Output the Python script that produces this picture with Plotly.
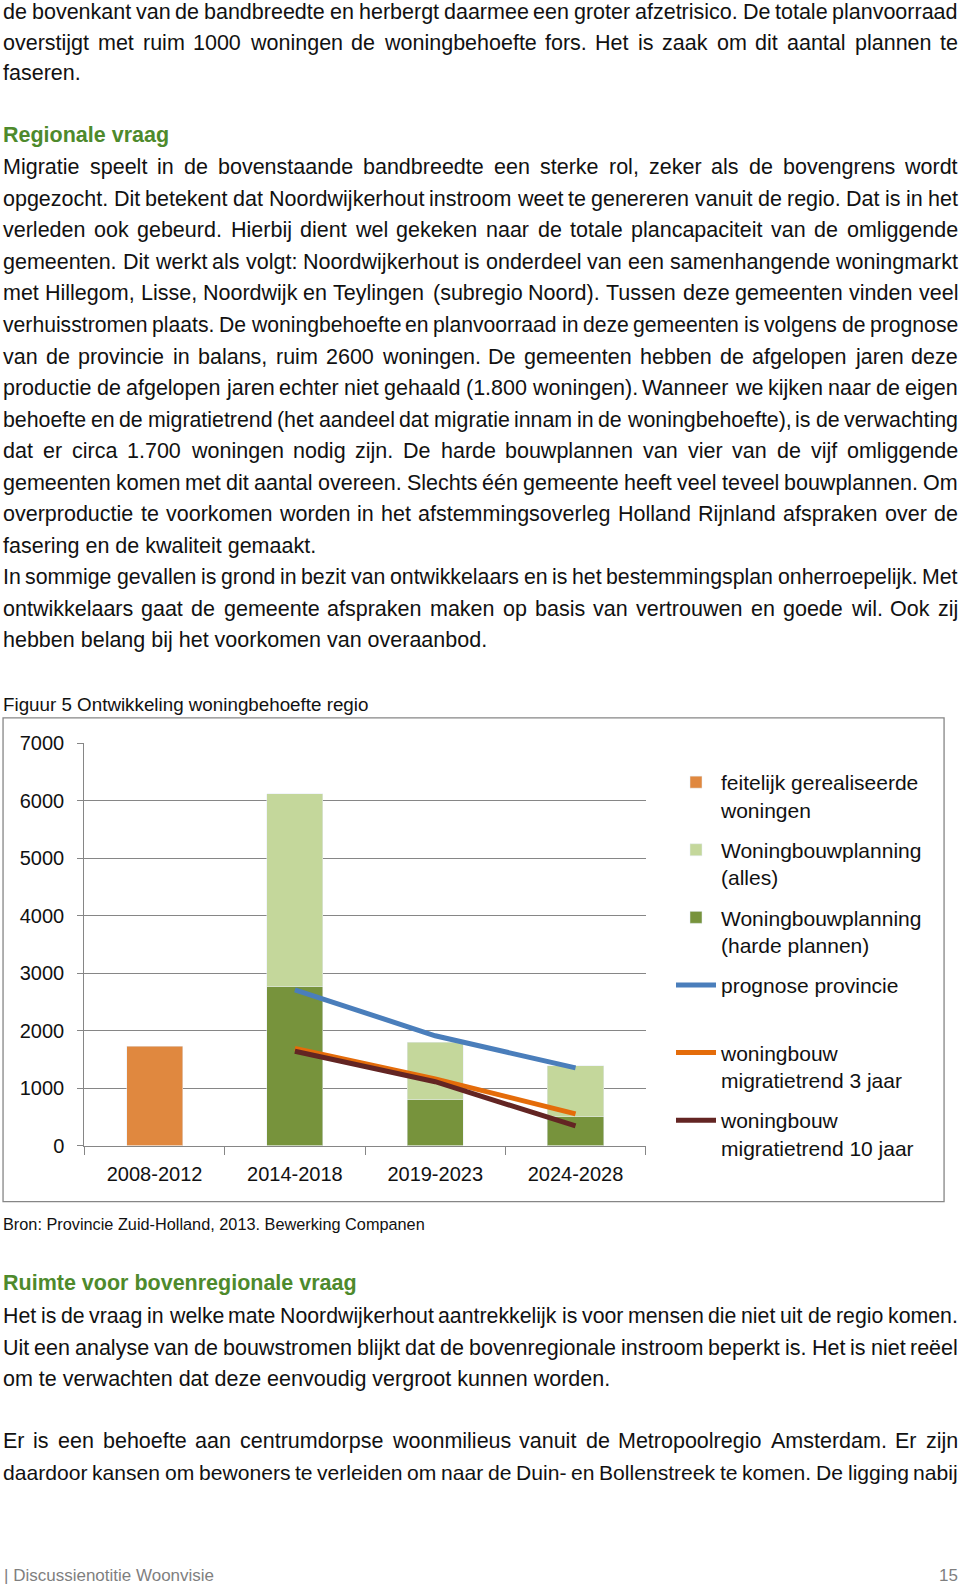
import plotly.graph_objects as go

# ---------------- chart data ----------------
categories = ["2008-2012", "2014-2018", "2019-2023", "2024-2028"]
realised = [1730, None, None, None]                 # feitelijk gerealiseerde woningen
plan_total = [None, 6120, 1800, 1390]               # Woningbouwplanning (alles)
plan_hard = [None, 2760, 800, 500]                  # Woningbouwplanning (harde plannen)
line_cats = ["2014-2018", "2019-2023", "2024-2028"]
prognose = [2710, 1910, 1350]                       # prognose provincie
migr3 = [1690, 1160, 550]                           # woningbouw migratietrend 3 jaar
migr10 = [1640, 1110, 340]                          # woningbouw migratietrend 10 jaar
y_ticks = [0, 1000, 2000, 3000, 4000, 5000, 6000, 7000]

names = ["feitelijk gerealiseerde<br>woningen", "Woningbouwplanning<br>(alles)",
         "Woningbouwplanning<br>(harde plannen)", "prognose provincie<br>\u00a0",
         "woningbouw<br>migratietrend 3 jaar", "woningbouw<br>migratietrend 10 jaar"]

# ---------------- page text ----------------
para_top = [
    ("de bovenkant van de bandbreedte en herbergt daarmee een groter afzetrisico. De totale planvoorraad", True),
    ("overstijgt met ruim 1000 woningen de woningbehoefte fors. Het is zaak om dit aantal plannen te", True),
    ("faseren.", False),
]
heading1 = "Regionale vraag"
para_reg = [
    ("Migratie speelt in de bovenstaande bandbreedte een sterke rol, zeker als de bovengrens wordt", True),
    ("opgezocht. Dit betekent dat Noordwijkerhout instroom weet te genereren vanuit de regio. Dat is in het", True),
    ("verleden ook gebeurd. Hierbij dient wel gekeken naar de totale plancapaciteit van de omliggende", True),
    ("gemeenten. Dit werkt als volgt: Noordwijkerhout is onderdeel van een samenhangende woningmarkt", True),
    ("met Hillegom, Lisse, Noordwijk en Teylingen (subregio Noord). Tussen deze gemeenten vinden veel", True),
    ("verhuisstromen plaats. De woningbehoefte en planvoorraad in deze gemeenten is volgens de prognose", True),
    ("van de provincie in balans, ruim 2600 woningen. De gemeenten hebben de afgelopen jaren deze", True),
    ("productie de afgelopen jaren echter niet gehaald (1.800 woningen). Wanneer we kijken naar de eigen", True),
    ("behoefte en de migratietrend (het aandeel dat migratie innam in de woningbehoefte), is de verwachting", True),
    ("dat er circa 1.700 woningen nodig zijn. De harde bouwplannen van vier van de vijf omliggende", True),
    ("gemeenten komen met dit aantal overeen. Slechts één gemeente heeft veel teveel bouwplannen. Om", True),
    ("overproductie te voorkomen worden in het afstemmingsoverleg Holland Rijnland afspraken over de", True),
    ("fasering en de kwaliteit gemaakt.", False),
    ("In sommige gevallen is grond in bezit van ontwikkelaars en is het bestemmingsplan onherroepelijk. Met", True),
    ("ontwikkelaars gaat de gemeente afspraken maken op basis van vertrouwen en goede wil. Ook zij", True),
    ("hebben belang bij het voorkomen van overaanbod.", False),
]
caption = "Figuur 5 Ontwikkeling woningbehoefte regio"
source = "Bron: Provincie Zuid-Holland, 2013. Bewerking Companen"
heading2 = "Ruimte voor bovenregionale vraag"
para_boven = [
    ("Het is de vraag in welke mate Noordwijkerhout aantrekkelijk is voor mensen die niet uit de regio komen.", True),
    ("Uit een analyse van de bouwstromen blijkt dat de bovenregionale instroom beperkt is. Het is niet reëel", True),
    ("om te verwachten dat deze eenvoudig vergroot kunnen worden.", False),
]
para_er = [
    ("Er is een behoefte aan centrumdorpse woonmilieus vanuit de Metropoolregio Amsterdam. Er zijn", True),
    ("daardoor kansen om bewoners te verleiden om naar de Duin- en Bollenstreek te komen. De ligging nabij", True),
]
footer_left = "| Discussienotitie Woonvisie"
footer_right = "15"

# ---------------- layout helpers ----------------
PW, PH = 960, 1590
S = PH / 1568.0          # reference display scale -> full px
FONT = "Liberation Sans, Arial, sans-serif"
FS = 21.5
L_EDGE, R_EDGE = 3.0, 958.0
GREEN = "#4e8a2c"

AW = {' ': 278, 'a': 556, 'b': 556, 'c': 500, 'd': 556, 'e': 556, 'f': 278, 'g': 556, 'h': 556,
      'i': 222, 'j': 222, 'k': 500, 'l': 222, 'm': 833, 'n': 556, 'o': 556, 'p': 556, 'q': 556,
      'r': 333, 's': 500, 't': 278, 'u': 556, 'v': 500, 'w': 722, 'x': 500, 'y': 500, 'z': 500,
      'A': 667, 'B': 667, 'C': 722, 'D': 722, 'E': 667, 'F': 611, 'G': 778, 'H': 722, 'I': 278,
      'J': 500, 'K': 667, 'L': 556, 'M': 833, 'N': 722, 'O': 778, 'P': 667, 'Q': 778, 'R': 722,
      'S': 667, 'T': 611, 'U': 722, 'V': 667, 'W': 944, 'X': 667, 'Y': 667, 'Z': 611,
      '.': 278, ',': 278, ':': 278, '(': 333, ')': 333, '-': 333, 'é': 556, 'ë': 556}


def tw(s, fs):
    return sum(AW.get(c, 556) for c in s) / 1000.0 * fs


annotations = []


def ann(text, x, y, anchor="left", fs=FS, color="#111111", bold=False):
    if bold:
        text = "<b>" + text + "</b>"
    annotations.append(dict(
        text=text, x=x / PW, y=1 - y / PH, xref="paper", yref="paper",
        xanchor=anchor, yanchor="middle", showarrow=False, borderpad=0, borderwidth=0,
        font=dict(family=FONT, size=fs, color=color)))


def add_line(text, y, justify, fs=FS):
    words = text.split(" ")
    n = len(words)
    if not justify or n == 1:
        ann(text, L_EDGE, y, "left", fs)
        return
    wsum = sum(tw(w, 1) for w in words)
    s = fs
    gap = (R_EDGE - L_EDGE - wsum * s) / (n - 1)
    if gap < 0.22 * s:
        s = (R_EDGE - L_EDGE) / (wsum + 0.22 * (n - 1))
        gap = 0.22 * s
    x = L_EDGE
    for i, w in enumerate(words):
        if i == n - 1:
            ann(w, R_EDGE, y, "right", s)
        else:
            ann(w, x, y, "left", s)
        x += tw(w, s) + gap


for i, (t, j) in enumerate(para_top):
    add_line(t, (12 + 30.2 * i) * S, j)
ann(heading1, L_EDGE, 133 * S, "left", FS, GREEN, bold=True)
for i, (t, j) in enumerate(para_reg):
    add_line(t, (165 + 31.1 * i) * S, j)
ann(caption, L_EDGE, 695 * S, "left", 18.8)
ann(source, L_EDGE, 1207 * S, "left", 16.3)
ann(heading2, L_EDGE, 1265 * S, "left", FS, GREEN, bold=True)
for i, (t, j) in enumerate(para_boven):
    add_line(t, (1298 + 31 * i) * S, j)
for i, (t, j) in enumerate(para_er):
    add_line(t, (1421 + 31 * i) * S, j)
ann(footer_left, 4, 1554 * S, "left", 17, "#7f7f7f")
ann(footer_right, 958, 1554 * S, "right", 17, "#7f7f7f")

# ---------------- chart ----------------
GRID = "#868686"
plan_light = [None if (t is None or h is None) else t - h for t, h in zip(plan_total, plan_hard)]

fig = go.Figure()
fig.add_bar(x=categories, y=realised, name=names[0], marker_color="#E0883F",
            legendgroup="g1", legendrank=1)
fig.add_bar(x=categories, y=plan_hard, name=names[2], marker_color="#77933C",
            legendgroup="g3", legendrank=3)
fig.add_bar(x=categories, y=plan_light, name=names[1], marker_color="#C4D79B",
            legendgroup="g2", legendrank=2)
fig.add_scatter(x=line_cats, y=prognose, name=names[3], mode="lines",
                line=dict(color="#4A7EBB", width=5), legendgroup="g4", legendrank=4)
fig.add_scatter(x=line_cats, y=migr3, name=names[4], mode="lines",
                line=dict(color="#E46C0A", width=5), legendgroup="g5", legendrank=5)
fig.add_scatter(x=line_cats, y=migr10, name=names[5], mode="lines",
                line=dict(color="#632523", width=5), legendgroup="g6", legendrank=6)

plot_l, plot_r = 84.4, 645.7
y0_px, y7_px = 1145.5, 743.3

fig.update_layout(
    width=PW, height=PH, autosize=False,
    margin=dict(l=0, r=0, t=0, b=0, pad=0, autoexpand=False),
    paper_bgcolor="white", plot_bgcolor="white",
    barmode="stack", bargap=0.6,
    font=dict(family=FONT, color="#111111"),
    showlegend=True,
    legend=dict(x=671 / PW, xanchor="left", y=1 - 762 / PH, yanchor="top",
                font=dict(family=FONT, size=21, color="#111111"),
                traceorder="grouped", valign="top", tracegroupgap=10,
                bgcolor="rgba(0,0,0,0)", itemwidth=40),
    xaxis=dict(domain=[plot_l / PW, plot_r / PW], type="category", automargin=False,
               categoryorder="array", categoryarray=categories,
               range=[-0.5, 3.5], showline=True, linecolor=GRID, linewidth=1.3,
               ticks="outside", tickson="boundaries", ticklen=8, tickcolor=GRID, tickwidth=1.3,
               showgrid=False, tickfont=dict(family=FONT, size=20, color="#111111"),
               ticklabelstandoff=10),
    yaxis=dict(domain=[1 - y0_px / PH, 1 - y7_px / PH], range=[0, 7000], automargin=False,
               tickvals=y_ticks, showline=True, linecolor=GRID, linewidth=1.3,
               ticks="outside", ticklen=6, tickcolor=GRID, tickwidth=1.3,
               showgrid=True, gridcolor=GRID, gridwidth=1.3, zeroline=False,
               tickfont=dict(family=FONT, size=20, color="#111111"),
               ticklabelstandoff=9),
    annotations=annotations,
    shapes=[dict(type="rect", xref="paper", yref="paper",
                 x0=3 * S / PW, x1=931 * S / PW,
                 y0=1 - 1185 * S / PH, y1=1 - 708 * S / PH,
                 line=dict(color=GRID, width=1.3), fillcolor="rgba(0,0,0,0)", layer="below")],
)

fig.write_html("out.html", config={"displayModeBar": False},
               post_script="document.body.style.margin='0px';document.body.style.padding='0px';document.documentElement.style.overflow='hidden';")
